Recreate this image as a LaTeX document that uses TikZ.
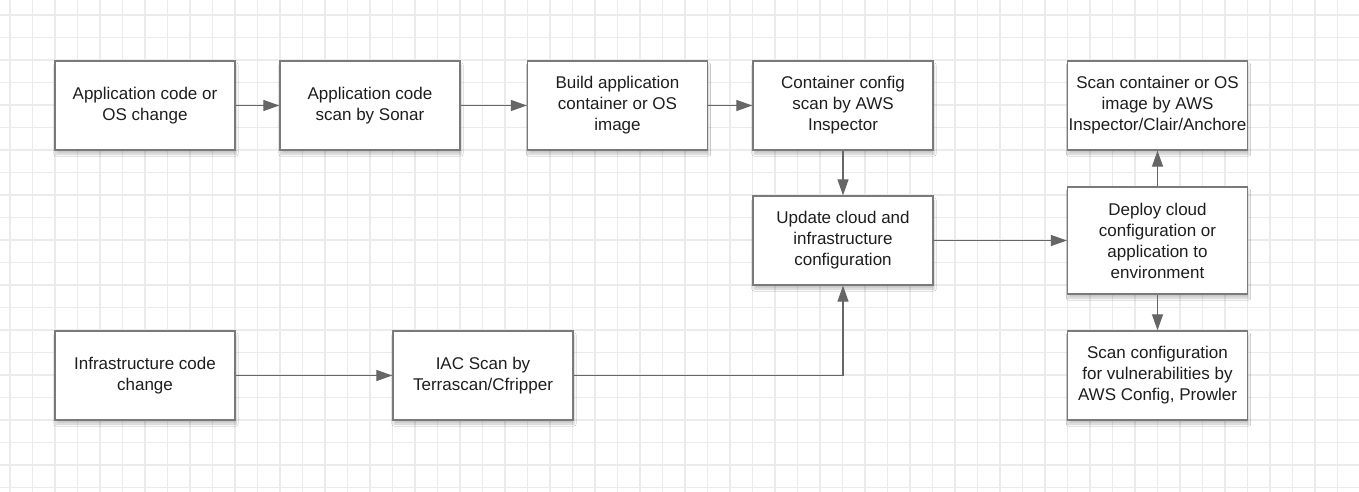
\documentclass[tikz,border=0pt]{standalone}
\usepackage{fontspec}
\setmainfont{Liberation Sans}
\usetikzlibrary{arrows.meta, shadows.blur}
\definecolor{gridcol}{HTML}{EBEBEB}
\definecolor{boxline}{HTML}{7A7A7A}
\definecolor{arrowcol}{HTML}{666666}
\definecolor{textcol}{HTML}{1E1E1E}
\tikzset{
  gridline/.style={gridcol, line width=1.5pt},
  stepbox/.style={draw=boxline, fill=white, line width=1.3pt, inner sep=1pt,
    minimum width=180pt, minimum height=89pt, align=center, text=textcol,
    font=\fontsize{17}{21}\selectfont,
    blur shadow={shadow xshift=1pt, shadow yshift=-4pt, shadow blur steps=6, shadow opacity=22}},
  flow/.style={draw=arrowcol, line width=1.2pt, -{Triangle[length=16pt, width=11pt]}}
}
\begin{document}
\begin{tikzpicture}[x=1pt, y=-1pt]
\useasboundingbox (0,0) rectangle (1359,492);
\fill[white] (0,0) rectangle (1359,492);
% grid
\foreach \k in {0,...,59}
  \draw[gridline] ({10+22.5*\k},0) -- ({10+22.5*\k},492);
\foreach \k in {0,...,21}
  \draw[gridline] (0,{15+22.5*\k}) -- (1359,{15+22.5*\k});

% top row
\node[stepbox] (appchange) at (145,105.5) {Application code or\\OS change};
\node[stepbox] (appscan) at (370,105.5) {Application code\\scan by Sonar};
\node[stepbox] (buildimg) at (617.5,105.5) {Build application\\container or OS\\image};
\node[stepbox] (cfgscan) at (843,105.5) {Container config\\scan by AWS\\Inspector};
\node[stepbox] (scanimg) at (1157.5,105.5) {Scan container or OS\\image by AWS\\Inspector/Clair/Anchore};

% middle
\node[stepbox] (update) at (843,240.5) {Update cloud and\\infrastructure\\configuration};
\node[stepbox, minimum height=107pt] (deploy) at (1157.5,240.5) {Deploy cloud\\configuration or\\application to\\environment};

% bottom row
\node[stepbox] (infrachange) at (145,375.5) {Infrastructure code\\change};
\node[stepbox] (iacscan) at (483,375.5) {IAC Scan by\\Terrascan/Cfripper};
\node[stepbox] (scancfg) at (1157.5,375.5) {Scan configuration\\for vulnerabilities by\\AWS Config, Prowler};

% connectors
\draw[flow] (appchange) -- (appscan);
\draw[flow] (appscan) -- (buildimg);
\draw[flow] (buildimg) -- (cfgscan);
\draw[flow] (cfgscan) -- (update);
\draw[flow] (update) -- (deploy);
\draw[flow] (deploy) -- (scanimg);
\draw[flow] (deploy) -- (scancfg);
\draw[flow] (infrachange) -- (iacscan);
\draw[flow] (iacscan) -| (update);
\end{tikzpicture}
\end{document}
